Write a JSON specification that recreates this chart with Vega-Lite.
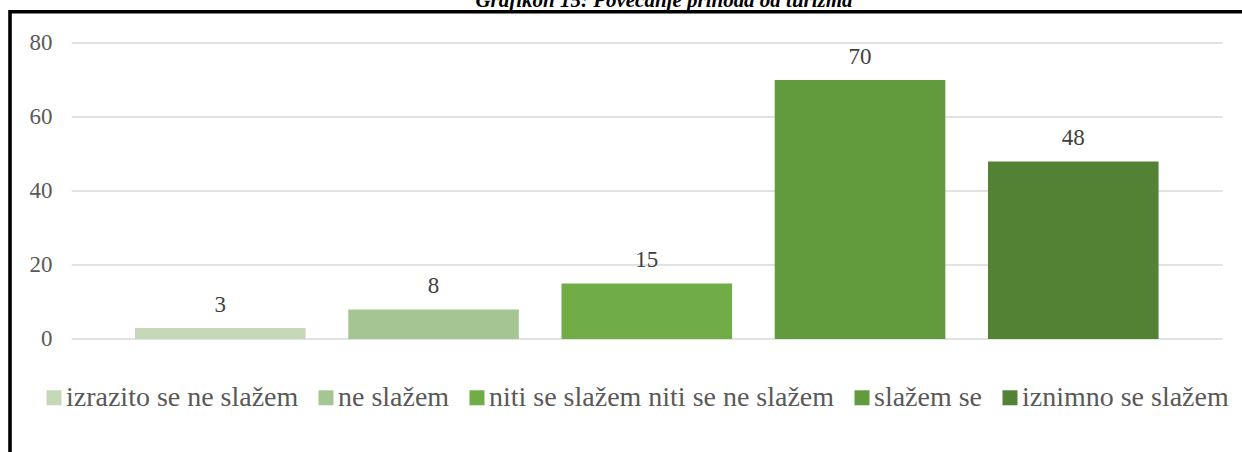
{
  "$schema": "https://vega.github.io/schema/vega-lite/v6.json",
  "width": 1242,
  "height": 446,
  "autosize": {"type": "none"},
  "padding": {"left": 10, "top": 11.8, "right": 0, "bottom": 0},
  "background": "white",
  "title": {
    "text": "Grafikon 15: Povećanje prihoda od turizma",
    "font": "Liberation Serif",
    "fontSize": 21,
    "fontStyle": "italic",
    "fontWeight": "bold",
    "color": "black",
    "anchor": "middle",
    "dx": 33,
    "offset": -16,
    "baseline": "alphabetic",
    "frame": "group"
  },
  "config": {"view": {"stroke": "black", "strokeWidth": 3.6}},
  "datasets": {
    "answers": [
      {"odgovor": "izrazito se ne slažem", "broj": 3},
      {"odgovor": "ne slažem", "broj": 8},
      {"odgovor": "niti se slažem niti se ne slažem", "broj": 15},
      {"odgovor": "slažem se", "broj": 70},
      {"odgovor": "iznimno se slažem", "broj": 48}
    ],
    "grid": [{"v": 0}, {"v": 20}, {"v": 40}, {"v": 60}, {"v": 80}]
  },
  "layer": [
    {
      "data": {"name": "grid"},
      "mark": {"type": "rule", "color": "#d9d9d9", "strokeWidth": 1.6},
      "encoding": {
        "y": {
          "field": "v", "type": "quantitative",
          "scale": {"domain": [-32.108, 88.432], "nice": false, "zero": false},
          "axis": {
            "values": [0, 20, 40, 60, 80], "orient": "left", "offset": 0,
            "labelPadding": -42, "labelAlign": "right", "ticks": false, "tickSize": 0, "domain": false,
            "grid": false, "title": null, "labelFont": "Liberation Serif",
            "labelFontSize": 23, "labelColor": "#595959"
          }
        },
        "x": {
          "datum": "izrazito se ne slažem", "type": "nominal", "bandPosition": -0.371,
          "scale": {
            "domain": ["izrazito se ne slažem", "ne slažem", "niti se slažem niti se ne slažem", "slažem se", "iznimno se slažem"],
            "paddingInner": 0.2, "paddingOuter": 0.5121, "align": 0.5723, "round": false
          },
          "axis": null
        },
        "x2": {"datum": "iznimno se slažem", "bandPosition": 1.3757}
      }
    },
    {
      "data": {"name": "answers"},
      "mark": {"type": "bar"},
      "encoding": {
        "x": {
          "field": "odgovor", "type": "nominal", "sort": null,
          "scale": {
            "domain": ["izrazito se ne slažem", "ne slažem", "niti se slažem niti se ne slažem", "slažem se", "iznimno se slažem"],
            "paddingInner": 0.2, "paddingOuter": 0.5121, "align": 0.5723, "round": false
          },
          "axis": null
        },
        "y": {
          "field": "broj", "type": "quantitative",
          "scale": {"domain": [-32.108, 88.432], "nice": false, "zero": false},
          "axis": {
            "values": [0, 20, 40, 60, 80], "orient": "left", "offset": 0,
            "labelPadding": -42, "labelAlign": "right", "ticks": false, "tickSize": 0, "domain": false,
            "grid": false, "title": null, "labelFont": "Liberation Serif",
            "labelFontSize": 23, "labelColor": "#595959"
          }
        },
        "y2": {"datum": 0},
        "color": {
          "field": "odgovor", "type": "nominal", "sort": null,
          "scale": {
            "domain": ["izrazito se ne slažem", "ne slažem", "niti se slažem niti se ne slažem", "slažem se", "iznimno se slažem"],
            "range": ["#c5d9b8", "#a5c593", "#70ad47", "#629a3e", "#548235"]
          },
          "legend": {
            "orient": "none", "legendX": 30, "legendY": 372, "direction": "horizontal",
            "columns": 5, "title": null, "symbolType": "square", "symbolSize": 225,
            "symbolStrokeWidth": 0, "symbolOpacity": 1, "labelFont": "Liberation Serif",
            "labelFontSize": 28, "labelColor": "#595959", "labelLimit": 1000,
            "labelOffset": -2, "columnPadding": 13, "padding": 0, "rowPadding": 0
          }
        }
      }
    },
    {
      "data": {"name": "answers"},
      "mark": {"type": "text", "font": "Liberation Serif", "fontSize": 23, "color": "#404040", "baseline": "alphabetic", "dy": -16},
      "encoding": {
        "x": {
          "field": "odgovor", "type": "nominal", "sort": null,
          "scale": {
            "domain": ["izrazito se ne slažem", "ne slažem", "niti se slažem niti se ne slažem", "slažem se", "iznimno se slažem"],
            "paddingInner": 0.2, "paddingOuter": 0.5121, "align": 0.5723, "round": false
          },
          "axis": null
        },
        "y": {
          "field": "broj", "type": "quantitative",
          "scale": {"domain": [-32.108, 88.432], "nice": false, "zero": false},
          "axis": {
            "values": [0, 20, 40, 60, 80], "orient": "left", "offset": 0,
            "labelPadding": -42, "labelAlign": "right", "ticks": false, "tickSize": 0, "domain": false,
            "grid": false, "title": null, "labelFont": "Liberation Serif",
            "labelFontSize": 23, "labelColor": "#595959"
          }
        },
        "text": {"field": "broj", "type": "quantitative"}
      }
    }
  ]
}
